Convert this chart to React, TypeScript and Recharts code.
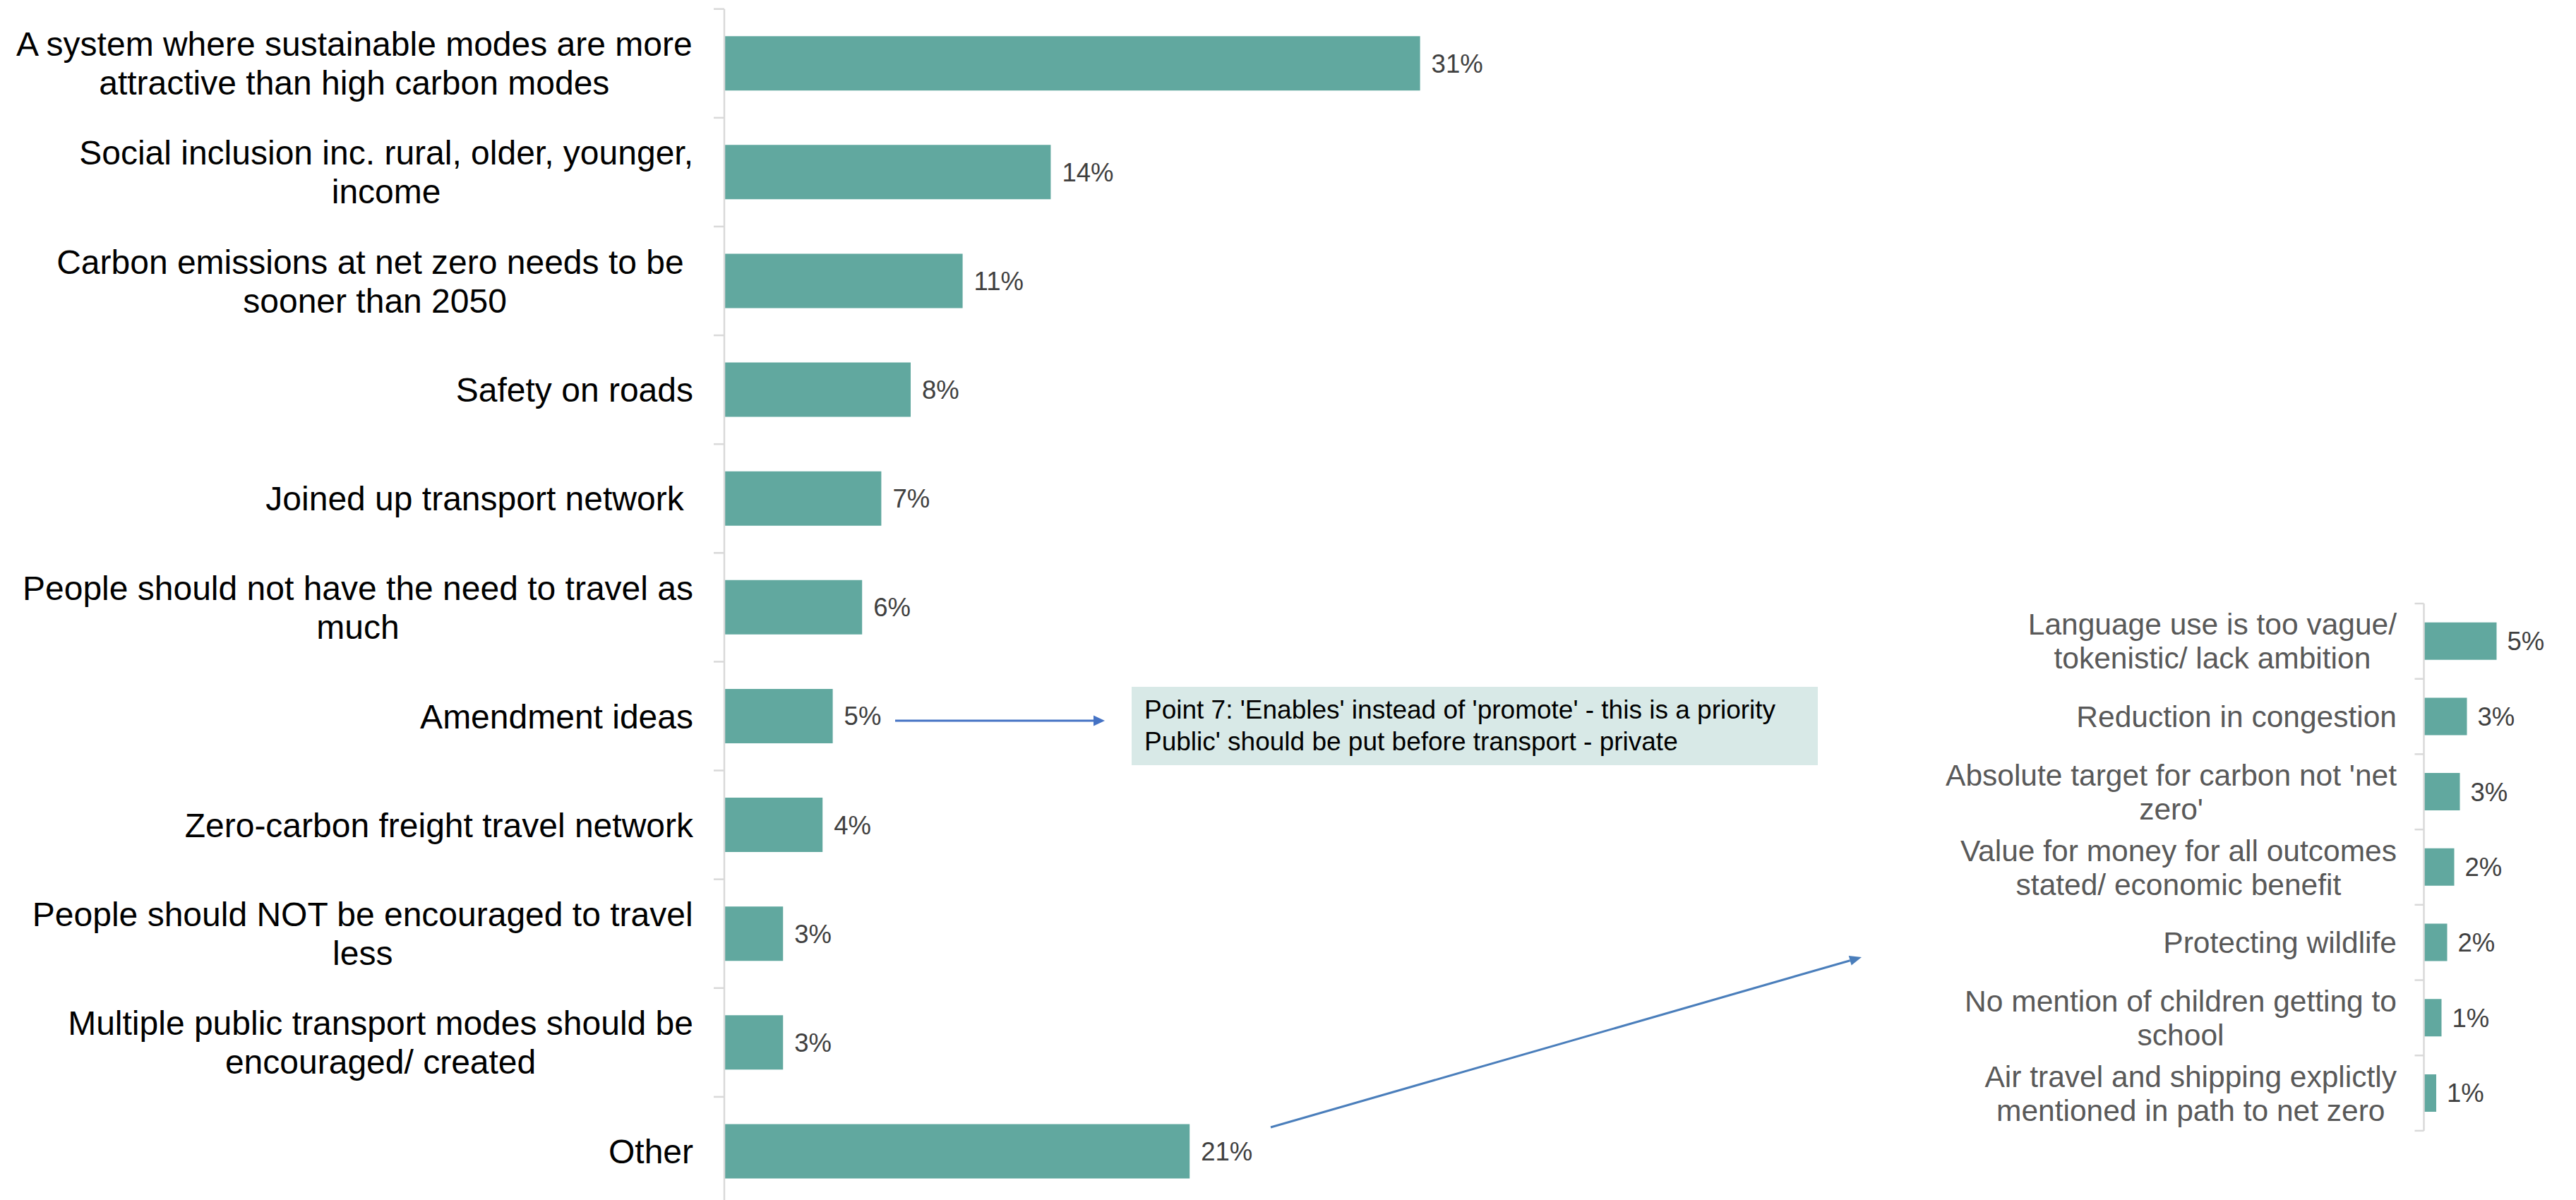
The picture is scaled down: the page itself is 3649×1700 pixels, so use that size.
import React from "react"
import { BarChart, Bar, XAxis, YAxis, LabelList } from "recharts"

// main breakdown
const mainCategories = [
  "A system where sustainable modes are more\nattractive than high carbon modes",
  "Social inclusion inc. rural, older, younger,\nincome",
  "Carbon emissions at net zero needs to be \nsooner than 2050",
  "Safety on roads",
  "Joined up transport network ",
  "People should not have the need to travel as\nmuch",
  "Amendment ideas",
  "Zero-carbon freight travel network",
  "People should NOT be encouraged to travel\nless",
  "Multiple public transport modes should be\nencouraged/ created",
  "Other",
]
const mainValues = [30.8, 14.45, 10.55, 8.25, 6.95, 6.1, 4.8, 4.35, 2.6, 2.6, 20.6]

// breakdown of "Other"
const otherCategories = [
  "Language use is too vague/\ntokenistic/ lack ambition",
  "Reduction in congestion",
  "Absolute target for carbon not 'net\nzero'",
  "Value for money for all outcomes\nstated/ economic benefit",
  "Protecting wildlife",
  "No mention of children getting to\nschool",
  "Air travel and shipping explictly\nmentioned in path to net zero",
]
const otherValues = [5.15, 3.05, 2.55, 2.15, 1.65, 1.25, 0.875]

const noteLines = [
  "Point 7: 'Enables' instead of 'promote' - this is a priority",
  "Public' should be put before transport - private",
]

const FONT = "'Liberation Sans', Arial, sans-serif"
const TEAL = "#61A89F"
const AXIS = "#d9d9d9"

const mainData = mainCategories.map((name, i) => ({ name, value: mainValues[i] }))
const otherData = otherCategories.map((name, i) => ({ name, value: otherValues[i] }))

let cnv: HTMLCanvasElement | null = null
function textWidth(s: string, size: number) {
  if (!cnv) cnv = document.createElement("canvas")
  const ctx = cnv.getContext("2d")!
  ctx.font = `${size}px ${FONT}`
  return ctx.measureText(s).width
}

function makeTick(o: { fontSize: number; lineHeight: number; color: string; gap: number; band: number; count: number; tickLen: number }) {
  return (props: any) => {
    const { x, y, payload } = props
    const index = props.index ?? payload?.index ?? 0
    const lines = String(payload.value).split("\n")
    const block = Math.max(...lines.map((l) => textWidth(l, o.fontSize)))
    const cx = x - o.gap - block / 2
    const first = y - ((lines.length - 1) / 2) * o.lineHeight + o.fontSize * 0.355
    return (
      <g>
        <line x1={x - o.tickLen} x2={x} y1={y - o.band / 2} y2={y - o.band / 2} stroke={AXIS} strokeWidth={2.5} />
        {index === o.count - 1 && (
          <line x1={x - o.tickLen} x2={x} y1={y + o.band / 2} y2={y + o.band / 2} stroke={AXIS} strokeWidth={2.5} />
        )}
        <text textAnchor="middle" fontSize={o.fontSize} fontFamily={FONT} fill={o.color} style={{ whiteSpace: "pre" }}>
          {lines.map((l, i) => (
            <tspan key={i} x={cx} y={first + i * o.lineHeight}>{l}</tspan>
          ))}
        </text>
      </g>
    )
  }
}

const MAIN_BAND = 154.12
const OTHER_BAND = 106.7

const MainTick = makeTick({ fontSize: 48, lineHeight: 55, color: "#000000", gap: 44, band: MAIN_BAND, count: mainData.length, tickLen: 15 })
const OtherTick = makeTick({ fontSize: 42.5, lineHeight: 48, color: "#595959", gap: 38.5, band: OTHER_BAND, count: otherData.length, tickLen: 13 })

const pct = (v: any) => `${Math.round(Number(v))}%`

function arrowHead(x1: number, y1: number, x2: number, y2: number, len: number, half: number) {
  const dx = x2 - x1, dy = y2 - y1
  const d = Math.hypot(dx, dy)
  const ux = dx / d, uy = dy / d
  const bx = x2 - ux * len, by = y2 - uy * len
  return { bx, by, pts: `${x2},${y2} ${bx - uy * half},${by + ux * half} ${bx + uy * half},${by - ux * half}` }
}

export default function App() {
  const a1 = arrowHead(1268, 1021, 1565, 1021, 16, 7.5)
  const a2 = arrowHead(1800, 1597, 2637, 1356, 17, 7)
  return (
    <div style={{ position: "absolute", left: 0, top: 0, width: 3649, height: 1700, overflow: "hidden", background: "#fff", fontFamily: FONT }}>
      <div style={{ position: "absolute", left: 0, top: 0 }}>
        <BarChart width={2426} height={1713} data={mainData} layout="vertical" barCategoryGap="25%"
          margin={{ top: 12.7, right: 120, left: 0, bottom: 5 }}>
          <XAxis type="number" domain={[0, 40]} hide />
          <YAxis type="category" dataKey="name" width={1026} interval={0} tickLine={false} tickSize={0} tickMargin={0}
            axisLine={{ stroke: AXIS, strokeWidth: 2.5 }} tick={MainTick} />
          <Bar dataKey="value" fill={TEAL} isAnimationActive={false}>
            <LabelList dataKey="value" position="right" offset={16} formatter={pct} fill="#404040" fontSize={36.5} fontFamily={FONT} />
          </Bar>
        </BarChart>
      </div>
      <div style={{ position: "absolute", left: 2700, top: 820 }}>
        <BarChart width={949} height={800} data={otherData} layout="vertical" barCategoryGap="25%"
          margin={{ top: 35, right: 15.5, left: 0, bottom: 18.1 }}>
          <XAxis type="number" domain={[0, 10]} hide />
          <YAxis type="category" dataKey="name" width={733.5} interval={0} tickLine={false} tickSize={0} tickMargin={0}
            axisLine={{ stroke: AXIS, strokeWidth: 2.5 }} tick={OtherTick} />
          <Bar dataKey="value" fill={TEAL} isAnimationActive={false}>
            <LabelList dataKey="value" position="right" offset={15} formatter={pct} fill="#404040" fontSize={36.5} fontFamily={FONT} />
          </Bar>
        </BarChart>
      </div>
      <svg width={3649} height={1700} style={{ position: "absolute", left: 0, top: 0, pointerEvents: "none" }}>
        <rect x={1603} y={973} width={972} height={111} fill="#d8e9e7" />
        <text fontSize={37} fontFamily={FONT} fill="#000">
          {noteLines.map((l, i) => (
            <tspan key={i} x={1621} y={1018 + i * 45}>{l}</tspan>
          ))}
        </text>
        <line x1={1268} y1={1021} x2={a1.bx} y2={a1.by} stroke="#4472C4" strokeWidth={3} />
        <polygon points={a1.pts} fill="#4472C4" />
        <line x1={1800} y1={1597} x2={a2.bx} y2={a2.by} stroke="#4A7EBB" strokeWidth={3} />
        <polygon points={a2.pts} fill="#4A7EBB" />
      </svg>
    </div>
  )
}
